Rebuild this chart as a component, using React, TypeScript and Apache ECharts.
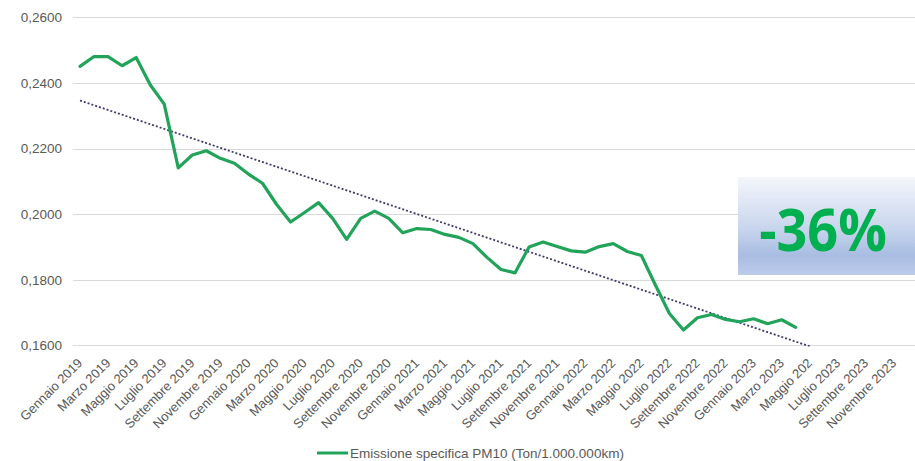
import React, { useEffect, useRef } from "react";
import * as echarts from "echarts";

// Month categories, January 2019 to December 2023
const categories: string[] = [
  "Gennaio 2019", "Febbraio 2019", "Marzo 2019", "Aprile 2019", "Maggio 2019", "Giugno 2019",
  "Luglio 2019", "Agosto 2019", "Settembre 2019", "Ottobre 2019", "Novembre 2019", "Dicembre 2019",
  "Gennaio 2020", "Febbraio 2020", "Marzo 2020", "Aprile 2020", "Maggio 2020", "Giugno 2020",
  "Luglio 2020", "Agosto 2020", "Settembre 2020", "Ottobre 2020", "Novembre 2020", "Dicembre 2020",
  "Gennaio 2021", "Febbraio 2021", "Marzo 2021", "Aprile 2021", "Maggio 2021", "Giugno 2021",
  "Luglio 2021", "Agosto 2021", "Settembre 2021", "Ottobre 2021", "Novembre 2021", "Dicembre 2021",
  "Gennaio 2022", "Febbraio 2022", "Marzo 2022", "Aprile 2022", "Maggio 2022", "Giugno 2022",
  "Luglio 2022", "Agosto 2022", "Settembre 2022", "Ottobre 2022", "Novembre 2022", "Dicembre 2022",
  "Gennaio 2023", "Febbraio 2023", "Marzo 2023", "Aprile 2023", "Maggio 202", "Giugno 2023",
  "Luglio 2023", "Agosto 2023", "Settembre 2023", "Ottobre 2023", "Novembre 2023", "Dicembre 2023",
];

// Specific PM10 emission, tonnes per million km, monthly
const emissionPM10: number[] = [
  0.2451, 0.2481, 0.2481, 0.2453, 0.2478, 0.2395, 0.2336, 0.2142, 0.2181, 0.2194,
  0.2171, 0.2156, 0.2123, 0.2095, 0.2031, 0.1977, 0.2006, 0.2036, 0.1988, 0.1924,
  0.1988, 0.2010, 0.1988, 0.1944, 0.1957, 0.1954, 0.1939, 0.1930, 0.1911, 0.1869,
  0.1832, 0.1822, 0.1901, 0.1916, 0.1902, 0.1889, 0.1885, 0.1902, 0.1911, 0.1887,
  0.1875, 0.1785, 0.1698, 0.1648, 0.1685, 0.1695, 0.1680, 0.1673, 0.1682, 0.1667,
  0.1679, 0.1656,
];

// Linear trend: start and end points [month index, value]
const trendPoints: [number, number][] = [
  [0, 0.2347],
  [52, 0.1598],
];

const yTicks = { min: 0.16, max: 0.26, step: 0.02 };

const seriesName = "Emissione specifica PM10 (Ton/1.000.000km)";
const changeLabel = "-36%";

const FONT = "'Liberation Sans', Arial, sans-serif";
const GREY = "#595959";
const GREEN = "#22a35a";

export default function App() {
  const ref = useRef<HTMLDivElement>(null);

  useEffect(() => {
    if (!ref.current) return;
    const chart = echarts.init(ref.current, undefined, { renderer: "svg" });
    chart.setOption({
      animation: false,
      backgroundColor: "#ffffff",
      textStyle: { fontFamily: FONT },
      grid: { left: 73, right: 0, top: 17.5, bottom: 115.3, containLabel: false },
      legend: {
        data: [{ name: seriesName, icon: "rect" }],
        left: 312,
        top: 441,
        itemWidth: 31,
        itemHeight: 3,
        itemGap: 10,
        padding: [5, 5, 5, 5],
        itemStyle: { color: GREEN },
        textStyle: { color: GREY, fontSize: 13.5, fontFamily: FONT, padding: [0, 0, 0, -3] },
      },
      xAxis: {
        type: "category",
        data: categories,
        boundaryGap: true,
        axisLine: { show: true, lineStyle: { color: "#d9d9d9", width: 1 } },
        axisTick: { show: false },
        axisLabel: {
          interval: 1,
          rotate: 45,
          margin: 15,
          color: GREY,
          fontSize: 13,
          fontFamily: FONT,
        },
        splitLine: { show: false },
      },
      yAxis: {
        type: "value",
        min: yTicks.min,
        max: yTicks.max,
        interval: yTicks.step,
        axisLine: { show: false },
        axisTick: { show: false },
        axisLabel: {
          margin: 11,
          color: GREY,
          fontSize: 13.5,
          fontFamily: FONT,
          formatter: (v: number) => v.toFixed(4).replace(".", ","),
        },
        splitLine: { lineStyle: { color: "#d9d9d9", width: 1 } },
      },
      series: [
        {
          name: "Tendenza",
          type: "line",
          data: trendPoints,
          symbol: "none",
          silent: true,
          lineStyle: { color: "#3e3c6a", width: 1.8, type: [2, 2] },
          z: 3,
        },
        {
          name: seriesName,
          type: "line",
          data: emissionPM10,
          symbol: "none",
          showSymbol: false,
          lineStyle: { color: GREEN, width: 3.2, join: "round", cap: "round" },
          itemStyle: { color: GREEN },
          z: 4,
        },
      ],
      graphic: [
        {
          type: "rect",
          shape: { x: 738, y: 177, width: 177, height: 98 },
          style: {
            fill: new echarts.graphic.LinearGradient(0, 0, 0, 1, [
              { offset: 0, color: "#f4f6fb" },
              { offset: 0.5, color: "#cbd7ee" },
              { offset: 0.8, color: "#a9bde2" },
              { offset: 1, color: "#bccbea" },
            ]),
          },
          z: 10,
        },
        {
          type: "text",
          x: 823,
          y: 228,
          scaleX: 0.9,
          style: {
            text: changeLabel,
            fill: "#00b050",
            fontFamily: "'Open Sans', 'Noto Sans', sans-serif",
            fontWeight: 700,
            fontSize: 60,
            align: "center",
            verticalAlign: "middle",
          },
          z: 11,
        },
      ],
    });
    return () => chart.dispose();
  }, []);

  return (
    <div
      ref={ref}
      style={{ position: "fixed", left: 0, top: 0, width: 915, height: 461 }}
    />
  );
}
